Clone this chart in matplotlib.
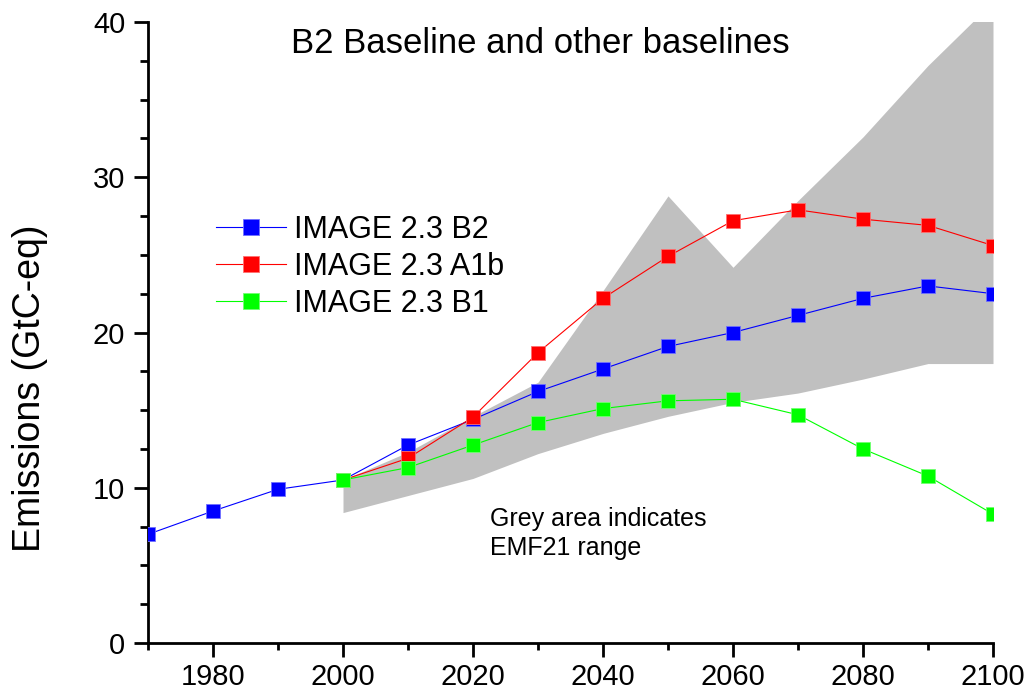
import matplotlib
matplotlib.use("Agg")
import matplotlib.pyplot as plt
from matplotlib.ticker import MultipleLocator

plt.rcParams['font.family'] = ['Liberation Sans', 'DejaVu Sans']

# ---- data ----
years_b2 = [1970, 1980, 1990, 2000, 2010, 2020, 2030, 2040, 2050, 2060, 2070, 2080, 2090, 2100]
b2 = [7.0, 8.5, 9.9, 10.5, 12.75, 14.4, 16.2, 17.65, 19.1, 20.0, 21.1, 22.2, 23.0, 22.5]

years_sc = [2000, 2010, 2020, 2030, 2040, 2050, 2060, 2070, 2080, 2090, 2100]
a1b = [10.5, 11.9, 14.55, 18.7, 22.2, 24.9, 27.2, 27.9, 27.3, 26.9, 25.6]
b1 = [10.5, 11.3, 12.75, 14.2, 15.1, 15.6, 15.7, 14.7, 12.5, 10.75, 8.3]

emf_years = [2000, 2010, 2020, 2030, 2040, 2050, 2060, 2070, 2080, 2090, 2100]
emf_upper = [10.5, 12.3, 14.6, 16.8, 22.7, 28.8, 24.2, 28.5, 32.6, 37.2, 41.3]
emf_lower = [8.4, 9.5, 10.6, 12.2, 13.5, 14.6, 15.5, 16.1, 17.0, 18.0, 18.0]

labels = ["IMAGE 2.3 B2", "IMAGE 2.3 A1b", "IMAGE 2.3 B1"]
title = "B2 Baseline and other baselines"
ylabel = "Emissions (GtC-eq)"
note = "Grey area indicates\nEMF21 range"

W, H = 1025, 693
fig = plt.figure(figsize=(W / 100, H / 100), dpi=100)
ax = fig.add_axes([148 / W, 1 - 643 / H, (993 - 148) / W, (643 - 22) / H])

ax.fill_between(emf_years, emf_lower, emf_upper, color='#c0c0c0', linewidth=0, zorder=1)

ms = 10.4
ax.plot(years_b2, b2, color='#0000ff', lw=0.8, marker='s', ms=ms,
        mfc='#0000ff', mec='#7070ff', mew=0.6, label=labels[0], zorder=3)
ax.plot(years_sc, a1b, color='#ff0000', lw=0.8, marker='s', ms=ms,
        mfc='#ff0000', mec='#ff7070', mew=0.6, label=labels[1], zorder=3)
ax.plot(years_sc, b1, color='#00ff00', lw=0.8, marker='s', ms=ms,
        mfc='#00ff00', mec='#70ff70', mew=0.6, label=labels[2], zorder=3)

ax.set_xlim(1970, 2100)
ax.set_ylim(0, 40)

for s in ['top', 'right']:
    ax.spines[s].set_visible(False)
for s in ['left', 'bottom']:
    ax.spines[s].set_linewidth(2.0)

ax.xaxis.set_major_locator(MultipleLocator(20))
ax.xaxis.set_minor_locator(MultipleLocator(10))
ax.yaxis.set_major_locator(MultipleLocator(10))
ax.yaxis.set_minor_locator(MultipleLocator(2.5))
ax.tick_params(axis='both', which='major', direction='out', length=9.8, width=2.0,
               labelsize=21)
ax.tick_params(axis='y', which='minor', direction='out', length=5.8, width=2.0)
ax.tick_params(axis='x', which='minor', direction='out', length=5.2, width=2.0)
ax.tick_params(axis='x', which='major', pad=4.5)
ax.tick_params(axis='y', which='major', pad=6.5)

fig.text(30 / W, 1 - 388 / H, ylabel, rotation=90, ha='center', va='center', fontsize=27)
fig.text(540 / W, 1 - 53 / H, title, ha='center', va='baseline', fontsize=25)
fig.text(490 / W, 1 - 555 / H, note, ha='left', va='baseline', fontsize=18, linespacing=1.28)

leg = ax.legend(loc='upper left', bbox_to_anchor=(216 / W, 1 - 215 / H),
                bbox_transform=fig.transFigure, frameon=False, fontsize=22,
                borderpad=0, borderaxespad=0, handlelength=2.3, handletextpad=0.25,
                labelspacing=0.23, markerscale=1.17)

fig.savefig("out.png", dpi=100)
